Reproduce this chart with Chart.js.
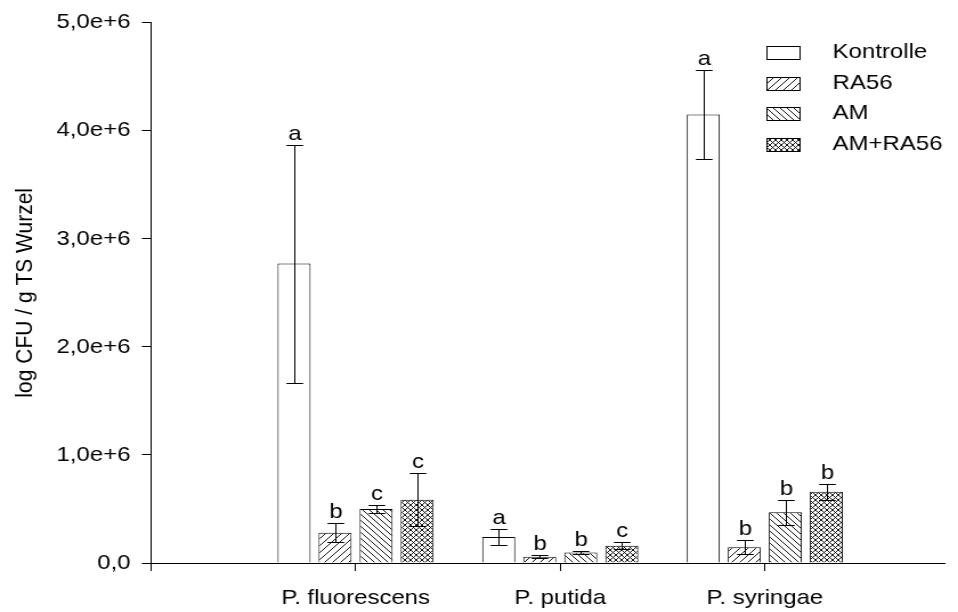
<!DOCTYPE html>
<html>
<head>
<meta charset="utf-8">
<script src="https://cdn.jsdelivr.net/npm/chart.js@4/dist/chart.umd.min.js"></script>
<style>
  html, body { margin: 0; padding: 0; background: #fff; overflow: hidden; }
  #wrap { width: 840px; height: 612px; transform: scaleX(1.1405); transform-origin: 0 0; }
  canvas { display: block; }
</style>
</head>
<body>
<div id="wrap"><canvas id="c" width="840" height="612"></canvas></div>
<script>
// Bacterial counts on roots per strain and treatment
const categories = ['P. fluorescens', 'P. putida', 'P. syringae'];
const seriesNames = ['Kontrolle', 'RA56', 'AM', 'AM+RA56'];

const kontrolle = [2.77e6, 0.24e6, 4.15e6];
const ra56      = [0.28e6, 0.058e6, 0.145e6];
const am        = [0.50e6, 0.098e6, 0.47e6];
const amRa56    = [0.585e6, 0.16e6, 0.66e6];

const kontrolleErr = [1.1e6, 0.07e6, 0.41e6];
const ra56Err      = [0.09e6, 0.013e6, 0.064e6];
const amErr        = [0.04e6, 0.012e6, 0.117e6];
const amRa56Err    = [0.245e6, 0.03e6, 0.075e6];

const kontrolleSig = ['a', 'a', 'a'];
const ra56Sig      = ['b', 'b', 'b'];
const amSig        = ['c', 'b', 'b'];
const amRa56Sig    = ['c', 'c', 'b'];

const yTicks = [0, 1e6, 2e6, 3e6, 4e6, 5e6];

const FONT = '"Liberation Sans", Arial, Helvetica, sans-serif';

// Hatch fills
function hatch(kind, size) {
  const cv = document.createElement('canvas');
  cv.width = size; cv.height = size;
  const g = cv.getContext('2d');
  g.fillStyle = '#fff';
  g.fillRect(0, 0, size, size);
  g.strokeStyle = '#000';
  g.lineWidth = 0.9;
  g.beginPath();
  if (kind === 'fwd' || kind === 'cross') {
    g.moveTo(-1, size + 1); g.lineTo(size + 1, -1);
    g.moveTo(-1, 1); g.lineTo(1, -1);
    g.moveTo(size - 1, size + 1); g.lineTo(size + 1, size - 1);
  }
  if (kind === 'back' || kind === 'cross') {
    g.moveTo(-1, -1); g.lineTo(size + 1, size + 1);
    g.moveTo(size - 1, -1); g.lineTo(size + 1, 1);
    g.moveTo(-1, size - 1); g.lineTo(1, size + 1);
  }
  g.stroke();
  return g.createPattern(cv, 'repeat');
}

const ctx = document.getElementById('c').getContext('2d');
const fills = ['#ffffff', hatch('fwd', 7), hatch('back', 6), hatch('cross', 5)];
const values = [kontrolle, ra56, am, amRa56];
const errors = [kontrolleErr, ra56Err, amErr, amRa56Err];
const sigs = [kontrolleSig, ra56Sig, amSig, amRa56Sig];

const datasets = seriesNames.map((name, i) => ({
  label: name,
  data: values[i].map((v, k) => ({ x: k, y: v })),
  err: errors[i],
  sig: sigs[i],
  backgroundColor: fills[i],
  borderColor: '#000',
  borderWidth: 1,
  borderSkipped: 'bottom',
  categoryPercentage: 0.802,
  barPercentage: 0.805
}));

// Error bars with significance letters above them
const errorBars = {
  id: 'errorBars',
  afterDatasetsDraw(chart) {
    const g = chart.ctx;
    const ys = chart.scales.y;
    g.save();
    g.strokeStyle = '#000';
    g.lineWidth = 1;
    g.fillStyle = '#000';
    g.font = '21px ' + FONT;
    g.textAlign = 'center';
    g.textBaseline = 'alphabetic';
    chart.data.datasets.forEach((ds, di) => {
      const meta = chart.getDatasetMeta(di);
      meta.data.forEach((el, k) => {
        const v = ds.data[k].y, e = ds.err[k];
        const x = Math.round(el.x) + 0.5;
        const yt = Math.round(ys.getPixelForValue(v + e)) + 0.5;
        const yb = Math.round(ys.getPixelForValue(v - e)) + 0.5;
        g.beginPath();
        g.moveTo(x, yt); g.lineTo(x, yb);
        g.moveTo(x - 7.3, yt); g.lineTo(x + 7.3, yt);
        g.moveTo(x - 7.3, yb); g.lineTo(x + 7.3, yb);
        g.stroke();
        g.fillText(ds.sig[k], x, yt - 6);
      });
    });
    g.restore();
  }
};

// Legend in the upper right of the plot
const boxLegend = {
  id: 'boxLegend',
  afterDraw(chart) {
    const g = chart.ctx;
    const a = chart.chartArea;
    const bx = Math.round(a.right - 157), tx = a.right - 98.4;
    g.save();
    g.font = '21px ' + FONT;
    g.textBaseline = 'middle';
    g.textAlign = 'left';
    chart.data.datasets.forEach((ds, i) => {
      const cy = a.top + 30 + i * 30.5;
      const by = Math.round(cy - 6.5);
      g.fillStyle = ds.backgroundColor;
      g.fillRect(bx, by, 29, 13);
      g.strokeStyle = '#000';
      g.lineWidth = 1;
      g.strokeRect(bx + 0.5, by + 0.5, 29, 13);
      g.fillStyle = '#000';
      g.fillText(ds.label, tx, cy);
    });
    g.restore();
  }
};

new Chart(ctx, {
  type: 'bar',
  data: { datasets },
  options: {
    responsive: false,
    animation: false,
    layout: { padding: { top: 19, right: 11.5, left: 0, bottom: 0 } },
    plugins: { legend: { display: false }, tooltip: { enabled: false } },
    scales: {
      x: {
        type: 'linear',
        min: -1,
        max: 2.88,
        offset: false,
        afterBuildTicks(scale) {
          scale.ticks = [-1, 0, 1, 2].map(v => ({ value: v }));
        },
        afterFit(scale) { scale.height = 49; },
        border: { display: true, color: '#000', width: 1 },
        grid: { display: true, offset: false, drawOnChartArea: false, drawTicks: true, tickLength: 8, color: '#000', lineWidth: 1 },
        ticks: {
          color: '#000',
          font: { family: FONT, size: 21 },
          padding: 15,
          maxRotation: 0,
          autoSkip: false,
          callback: v => (v >= 0 && v < categories.length) ? categories[v] : ''
        }
      },
      y: {
        type: 'linear',
        min: 0,
        max: 5e6,
        afterBuildTicks(scale) {
          scale.ticks = yTicks.map(v => ({ value: v }));
        },
        afterFit(scale) { scale.width = 132.4; },
        border: { display: true, color: '#000', width: 1 },
        grid: { display: true, drawOnChartArea: false, drawTicks: true, tickLength: 8, color: '#000', lineWidth: 1 },
        title: {
          display: true,
          text: 'log CFU / g TS Wurzel',
          color: '#000',
          font: { family: FONT, size: 21 },
          padding: { top: 10, bottom: 0 }
        },
        ticks: {
          color: '#000',
          font: { family: FONT, size: 21 },
          padding: 10,
          callback: v => v === 0 ? '0,0' : (v / 1e6).toFixed(1).replace('.', ',') + 'e+6'
        }
      }
    }
  },
  plugins: [errorBars, boxLegend]
});
</script>
</body>
</html>
